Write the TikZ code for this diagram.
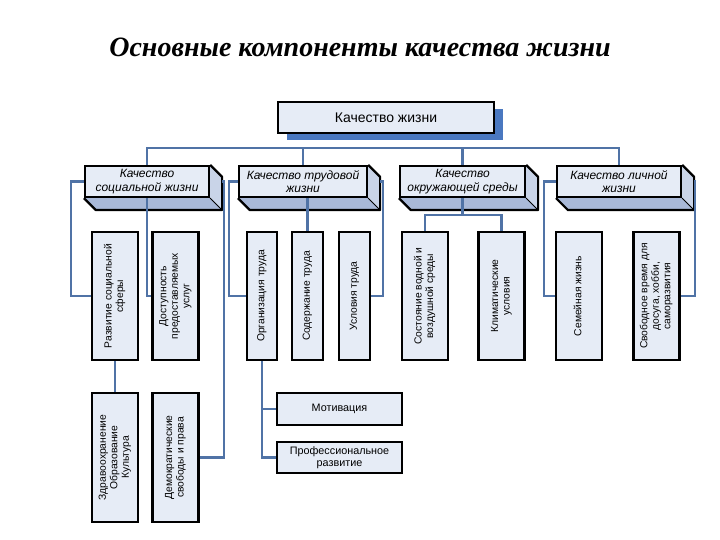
\documentclass[tikz,border=0pt]{standalone}
\usepackage{fontspec}
\setmainfont{Liberation Sans}
\newfontfamily\titlefont{Liberation Serif}
\usetikzlibrary{shadows,calc,backgrounds}
\definecolor{boxfill}{HTML}{E6ECF6}
\definecolor{connblue}{HTML}{5073A6}
\definecolor{shadowblue}{HTML}{4A78C0}
\definecolor{rightface}{HTML}{C9D4E8}
\definecolor{bottomface}{HTML}{A9B9D8}
\newcommand{\vt}[1]{\rotatebox{90}{\begin{tabular}{@{}c@{}}#1\end{tabular}}}
\newcommand{\catextrude}[1]{%
  \fill[rightface] (#1.north east) -- ++(12,12) -- ($(#1.south east)+(12,12)$) -- (#1.south east) -- cycle;
  \fill[bottomface] (#1.south west) -- (#1.south east) -- ++(12,12) -- ($(#1.south west)+(12,12)$) -- cycle;
  \draw[line width=2.2pt, line join=round] (#1.north east) -- ++(12,12) -- ($(#1.south east)+(12,12)$) -- ($(#1.south west)+(12,12)$) -- (#1.south west);
  \draw[line width=1pt] (#1.south east) -- ++(12,12);
}
\begin{document}
\begin{tikzpicture}[x=1pt,y=-1pt,
  conn/.style={draw=connblue, line width=2.4pt},
  vbox/.style={draw=black, line width=2.2pt, fill=boxfill, inner sep=0pt, minimum width=46pt, minimum height=128pt, font=\fontsize{10.3}{11.5}\selectfont},
  nbox/.style={vbox, minimum width=31pt},
  hbox/.style={draw=black, line width=2.2pt, fill=boxfill, inner sep=0pt, minimum width=125pt, minimum height=32pt, align=center, font=\fontsize{10.8}{12.5}\selectfont},
  cbox/.style={draw=black, line width=2.2pt, fill=boxfill, inner sep=0pt, minimum height=31pt, align=center, font=\fontsize{12}{13.5}\selectfont\itshape},
  topbox/.style={draw=black, line width=2.4pt, fill=boxfill, inner sep=0pt, minimum width=216pt, minimum height=31pt, font=\fontsize{14}{16}\selectfont,
    general shadow={fill=shadowblue, shadow xshift=9pt, shadow yshift=-7pt}},
  titlestyle/.style={font=\titlefont\bfseries\itshape\fontsize{28}{32}\selectfont},
]
\useasboundingbox (0,0) rectangle (720,540);
\fill[white] (0,0) rectangle (720,540);

\node[titlestyle] (title) at (360,47) {Основные компоненты качества жизни};

\coordinate (hub) at (386,148);
\begin{scope}[on background layer]
  \draw[conn] (386,133) -- (hub);
\end{scope}
\node[topbox] (tb) at (386,117.5) {Качество жизни};

% category boxes
\node[cbox, minimum width=124pt] (c1) at (147,181.5) {Качество\\социальной жизни};
\node[cbox, minimum width=128pt] (c2) at (303,181.5) {Качество трудовой\\жизни};
\node[cbox, minimum width=125pt] (c3) at (462.5,181.5) {Качество\\окружающей среды};
\node[cbox, minimum width=124pt] (c4) at (619,181.5) {Качество личной\\жизни};
\catextrude{c1}
\catextrude{c2}
\catextrude{c3}
\catextrude{c4}

% vertical boxes
\node[vbox] (vA) at (115,296) {\vt{Развитие социальной\\сферы}};
\node[vbox] (vB) at (175.5,296) {\vt{Доступность\\предоставляемых\\услуг}};
\node[nbox, minimum width=30pt] (vOrg) at (262,296) {\vt{Организация труда}};
\node[nbox] (vSod) at (307.5,296) {\vt{Содержание труда}};
\node[nbox] (vUsl) at (354.5,296) {\vt{Условия труда}};
\node[vbox] (vSost) at (425,296) {\vt{Состояние водной и\\воздушной среды}};
\node[vbox] (vKlim) at (501.5,296) {\vt{Климатические\\условия}};
\node[vbox] (vSem) at (579,296) {\vt{Семейная жизнь}};
\node[vbox] (vSvob) at (656.5,296) {\vt{Свободное время для\\досуга, хобби,\\саморазвития}};

\node[vbox, minimum height=129pt] (vZdr) at (115,457.5) {\vt{Здравоохранение\\Образование\\Культура}};
\node[vbox, minimum height=129pt] (vDem) at (175.5,457.5) {\vt{Демократические\\свободы и права}};

\node[hbox] (mot) at (339.5,409) {Мотивация};
\node[hbox, minimum height=31pt] (prof) at (339.5,457.5) {Профессиональное\\развитие};

% top tree
\draw[conn] (c1.north) -- (c1.north |- hub) -- (c4.north |- hub) -- (c4.north);
\draw[conn] (c2.north |- hub) -- (c2.north);
\draw[conn] (c3.north |- hub) -- (c3.north);

% group 1
\draw[conn] (c1.west) -- ++(-13,0) |- (vA.west);
\draw[conn] (c1.south) |- (vB.west);
\draw[conn] ($(c1.east)+(12,0)$) -- ++(2,0) |- (vDem.east);
\draw[conn] (vA.south) -- (vZdr.north);

% group 2
\draw[conn] (c2.west) -- ++(-9,0) |- (vOrg.west);
\draw[conn] (vSod.north |- c2.south) -- (vSod.north);
\draw[conn] ($(c2.east)+(12,0)$) -- ++(3,0) |- (vUsl.east);
\draw[conn] (vOrg.south) |- (prof.west);
\draw[conn] (vOrg.south |- mot.west) -- (mot.west);

% group 3
\draw[conn] (c3.south) -- ++(0,17) coordinate (h3);
\draw[conn] (vSost.north) |- (h3) -| (vKlim.north);

% group 4
\draw[conn] (c4.west) -- ++(-12,0) |- (vSem.west);
\draw[conn] ($(c4.east)+(12,0)$) -- ++(1,0) |- (vSvob.east);
\end{tikzpicture}
\end{document}
